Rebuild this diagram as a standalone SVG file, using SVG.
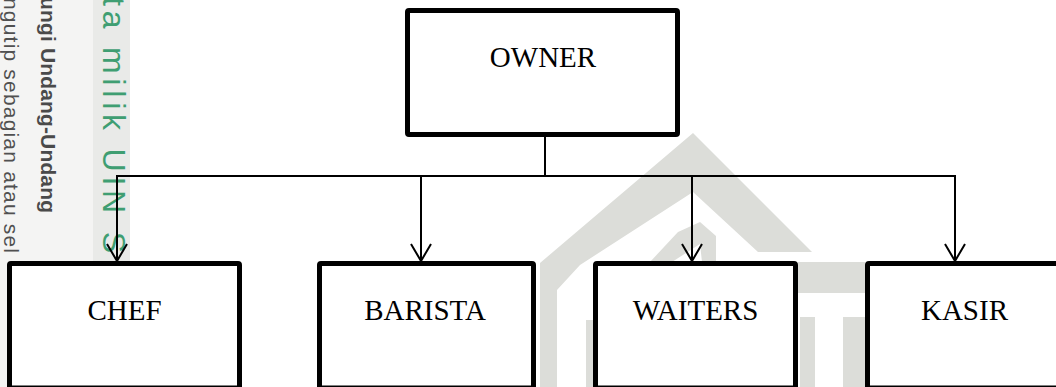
<svg xmlns="http://www.w3.org/2000/svg" width="1056" height="387" viewBox="0 0 1056 387">
  <style>
    .box { fill: #ffffff; stroke: #000000; stroke-width: 5; stroke-linejoin: round; }
    .lbl { font-family: "Liberation Serif", "Times New Roman", serif; font-size: 29px; fill: #000000; text-anchor: middle; }
    .conn { stroke: #000000; stroke-width: 2; fill: none; }
    .wm { fill: #dcddd9; }
  </style>
  <defs>
    <marker id="arrow" markerUnits="userSpaceOnUse" markerWidth="40" markerHeight="40" refX="0" refY="0" orient="auto" viewBox="-20 -20 40 40" overflow="visible">
      <path d="M-17,-10 L0,0 L-17,10" fill="none" stroke="#000000" stroke-width="2"/>
    </marker>
  </defs>

  <rect x="0" y="0" width="1056" height="387" fill="#ffffff"/>

  <!-- watermark background -->
  <g id="watermark">
    <rect x="0" y="0" width="93" height="387" fill="#f4f4f3"/>
    <rect x="93" y="0" width="37" height="261" fill="#e9eae8"/>
    <text transform="translate(41,213) rotate(90) translate(-216,0)" font-family="Liberation Sans, Arial, sans-serif" font-size="21" font-weight="bold" fill="#4a4a4a" textLength="216" lengthAdjust="spacing">ungi Undang-Undang</text>
    <text transform="translate(4,253) rotate(90) translate(-255,0)" font-family="Liberation Sans, Arial, sans-serif" font-size="21" fill="#505050" textLength="255" lengthAdjust="spacing">ngutip sebagian atau sel</text>
    <text transform="translate(103,253) rotate(90) translate(-256,0)" font-family="Liberation Sans, Arial, sans-serif" font-size="32" fill="#3f9e72" textLength="256" lengthAdjust="spacing">ta milik UIN S</text>
    <polygon class="wm" points="693,133 812,252 758,252 693,192 580,265 557,290 557,387 540,387 540,263"/>
    <polygon class="wm" points="650,262 678,232 700,222 716,236 716,262 702,262 700,244 672,262"/>
    <rect class="wm" x="798" y="262" width="67" height="31"/>
    <rect class="wm" x="800" y="317" width="15" height="70"/>
    <rect class="wm" x="843" y="317" width="22" height="70"/>
    <rect class="wm" x="586" y="320" width="8" height="67"/>
  </g>

  <!-- connectors -->
  <g id="connectors">
    <line class="conn" x1="545" y1="137" x2="545" y2="176"/>
    <line class="conn" x1="116" y1="176" x2="956" y2="176"/>
    <line class="conn" x1="117" y1="176" x2="117" y2="261" marker-end="url(#arrow)"/>
    <line class="conn" x1="421" y1="176" x2="421" y2="261" marker-end="url(#arrow)"/>
    <line class="conn" x1="692" y1="176" x2="692" y2="261" marker-end="url(#arrow)"/>
    <line class="conn" x1="955" y1="176" x2="955" y2="261" marker-end="url(#arrow)"/>
  </g>

  <!-- nodes -->
  <g id="owner">
    <rect class="box" x="407.5" y="10.5" width="270" height="124" rx="1.5"/>
    <text class="lbl" x="543" y="67">OWNER</text>
  </g>
  <g id="chef">
    <rect class="box" x="9.5" y="263.5" width="230" height="124.5" rx="1.5"/>
    <text class="lbl" x="124.5" y="320">CHEF</text>
  </g>
  <g id="barista">
    <rect class="box" x="319.5" y="263.5" width="214" height="124.5" rx="1.5"/>
    <text class="lbl" x="425" y="320">BARISTA</text>
  </g>
  <g id="waiters">
    <rect class="box" x="595.5" y="263.5" width="200" height="124.5" rx="1.5"/>
    <text class="lbl" x="695.5" y="320">WAITERS</text>
  </g>
  <g id="kasir">
    <rect class="box" x="867.5" y="263.5" width="200" height="124.5" rx="1.5"/>
    <text class="lbl" x="964.5" y="320">KASIR</text>
  </g>
</svg>
